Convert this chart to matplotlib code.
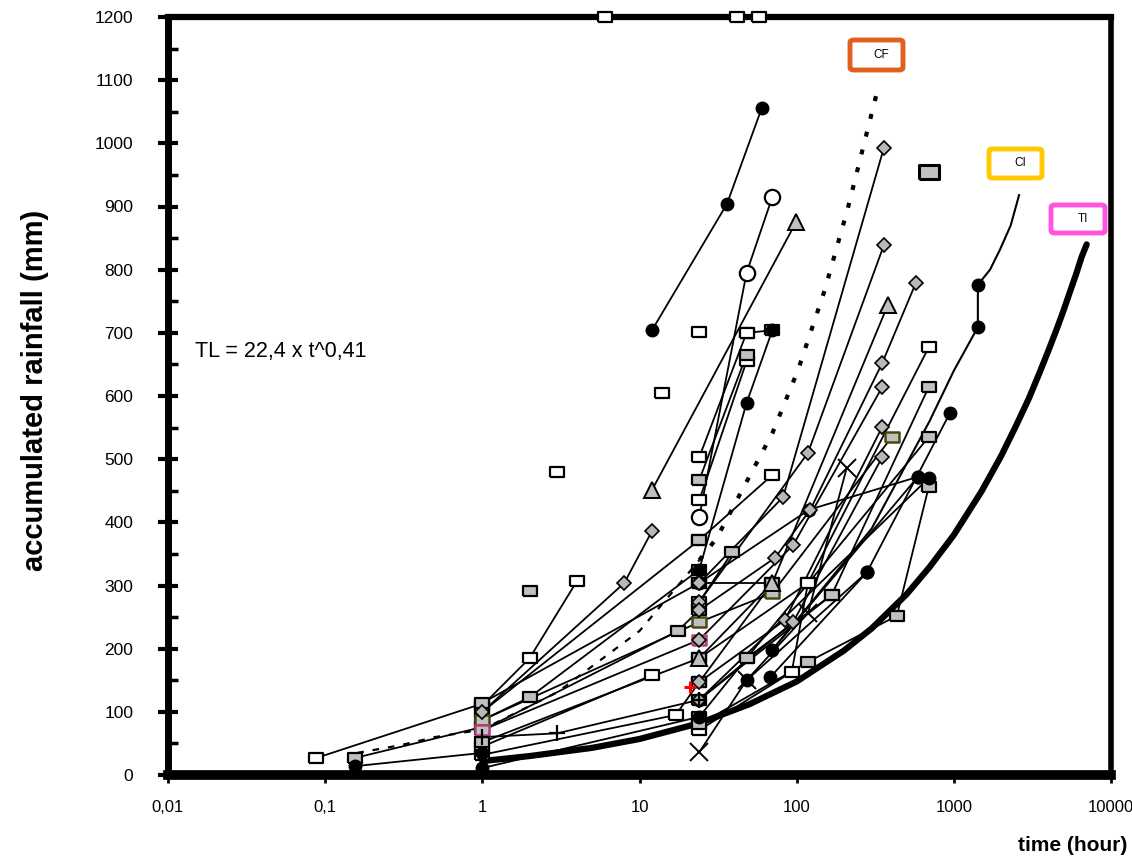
import matplotlib
matplotlib.use("Agg")
import matplotlib.pyplot as plt
from matplotlib.patches import FancyBboxPatch
import numpy as np

# --- data: (time h, accumulated rainfall mm) ---
# threshold curves
tl_t = [1, 2, 5, 10, 24, 50, 100, 200, 300, 500, 700, 1000, 1500, 2000, 2500, 3000,
        3500, 4000, 4500, 5000, 5500, 6000, 6500, 7000]
tl_y = [22, 30, 43, 57, 82, 112, 148, 197, 232, 286, 329, 380, 449, 505, 554, 596,
        636, 672, 705, 736, 766, 793, 820, 840]
cf_low_t = [0.16, 0.3, 0.5, 1, 3, 10, 24]
cf_low_y = [35, 47, 60, 72, 131, 228, 340]
cf_t = [24, 31, 45, 70, 102, 151, 212, 329]
cf_y = [340, 375, 451, 541, 641, 768, 898, 1087]
ci_t = [70, 300, 700, 1000, 1422, 1422, 1700, 1960, 2300, 2600]
ci_y = [198, 390, 560, 640, 709, 776, 800, 831, 870, 918]

# rain events, one polyline per event, grouped by marker
open_sq_lines = [
    [(0.088, 27), (1, 113)],
    [(1, 110), (2, 185), (4, 307)],
    [(1, 45), (12, 158)],
    [(1, 32), (17, 95), (24, 147)],
    [(24, 503), (48, 700)],
    [(24, 435), (48, 655)],
    [(24, 372), (70, 475)],
    [(24, 71), (93, 163), (118, 304), (692, 677)],
    [(24, 185), (118, 304)],
    [(24, 701)],
    [(48, 700), (70, 704)],
]
gray_sq_lines = [
    [(0.155, 27), (1, 76)],
    [(1, 87), (2, 123), (24, 325)],
    [(1, 100), (24, 372)],
    [(1, 114), (24, 304)],
    [(1, 52), (24, 185)],
    [(1, 71), (17.5, 228), (24, 261)],
    [(24, 467), (48, 665)],
    [(24, 92), (48, 185), (167, 285), (692, 614)],
    [(24, 80), (118, 179), (434, 252), (692, 456)],
    [(48, 185), (692, 535)],
    [(24, 274), (39, 353)],
    [(24, 304), (70, 304)],
    [(24, 147), (70, 304)],
    [(24, 119), (167, 285)],
]
olive_sq_lines = [
    [(1, 87), (24, 242), (70, 288), (403, 535)],
]
pink_sq_lines = [
    [(1, 71), (24, 214)],
]
black_dot_lines = [
    [(0.155, 14), (1, 35)],
    [(1, 11), (24, 92)],
    [(12, 704), (36, 904), (60, 1056)],
    [(24, 325), (48, 589), (70, 704)],
    [(68, 155), (280, 321), (944, 573)],
    [(24, 119), (692, 470)],
    [(70, 198), (590, 472)],
    [(24, 304), (120, 420), (590, 472)],
    [(48, 150), (280, 321)],
]
hex_lines = [
    [(24, 408), (48, 795), (70, 915)],
]
tri_lines = [
    [(12, 451), (99, 875)],
    [(24, 185), (70, 304), (380, 744)],
]
diamond_lines = [
    [(1, 100), (8, 304), (12, 386)],
    [(24, 304), (82, 440), (359, 993)],
    [(24, 274), (118, 510), (359, 839)],
    [(24, 261), (73, 344), (122, 420), (350, 652), (573, 779)],
    [(24, 214), (95, 364), (350, 614)],
    [(24, 147), (84, 245), (350, 551)],
    [(24, 119), (95, 242), (350, 503)],
]
cross_lines = [
    [(24, 36), (48, 150), (118, 256), (208, 486)],
]
plus_lines = [
    [(1, 60), (3, 66), (24, 119)],
]
red_plus = [(21, 139)]
lone_open = [(3, 480), (14, 605)]
lone_gray = [(2, 291)]
big_gray = [(692, 954)]
top_open = [(6, 1200), (42, 1200), (58, 1200)]

# --- drawing ---
rect = [(-1, -0.7), (1, -0.7), (1, 0.7), (-1, 0.7), (-1, -0.7)]
styles = {
    "open": dict(marker=rect, ms=10, mfc="white", mec="black", mew=1.6),
    "gray": dict(marker=rect, ms=10, mfc="#c0c0c0", mec="black", mew=1.6),
    "olive": dict(marker=rect, ms=10, mfc="#c0c0c0", mec="#4a4a10", mew=1.8),
    "pink": dict(marker=rect, ms=10, mfc="#c0c0c0", mec="#b04080", mew=1.8),
    "black": dict(marker="o", ms=9, mfc="black", mec="black", mew=1),
    "hex": dict(marker="o", ms=11, mfc="white", mec="black", mew=1.6),
    "tri": dict(marker="^", ms=11, mfc="#c0c0c0", mec="black", mew=1.4),
    "dia": dict(marker="D", ms=7, mfc="#b8b8b8", mec="black", mew=1.2),
    "cross": dict(marker="x", ms=13, mfc="black", mec="black", mew=1.4),
    "plus": dict(marker="+", ms=12, mfc="black", mec="black", mew=1.6),
}
groups = [
    (open_sq_lines, "open"), (gray_sq_lines, "gray"), (olive_sq_lines, "olive"),
    (pink_sq_lines, "pink"), (black_dot_lines, "black"), (hex_lines, "hex"),
    (tri_lines, "tri"), (diamond_lines, "dia"), (cross_lines, "cross"),
    (plus_lines, "plus"),
]

plt.rcParams["font.family"] = ["Liberation Sans", "DejaVu Sans"]
fig = plt.figure(figsize=(11.32, 8.58), dpi=100)
ax = fig.add_axes([168 / 1132, 83 / 858, 943 / 1132, 758 / 858])
ax.set_xscale("log")
ax.set_xlim(0.01, 10000)
ax.set_ylim(0, 1200)

ax.plot(tl_t, tl_y, color="black", lw=4.5, solid_capstyle="round",
        solid_joinstyle="round", zorder=3)
ax.plot(cf_low_t, cf_low_y, color="black", lw=1.6, ls=(0, (3, 4)), zorder=3)
ax.plot(cf_t, cf_y, color="black", lw=3, ls=(0, (1.2, 3.2)), zorder=3)
ax.plot(ci_t, ci_y, color="black", lw=1.5, zorder=3)
ax.plot([1422, 1422], [709, 776], ls="none", zorder=4, **styles["black"])

for lines, key in groups:
    for ev in lines:
        t, y = zip(*ev)
        ax.plot(t, y, color="black", lw=1.3, zorder=2)
        ax.plot(t, y, ls="none", zorder=4, **styles[key])

for pts, key in [(lone_open, "open"), (lone_gray, "gray")]:
    t, y = zip(*pts)
    ax.plot(t, y, ls="none", zorder=4, **styles[key])
t, y = zip(*big_gray)
ax.plot(t, y, ls="none", zorder=4, marker=rect, ms=15, mfc="#c0c0c0", mec="black", mew=2.2)
t, y = zip(*top_open)
ax.plot(t, y, ls="none", zorder=5, clip_on=False, **styles["open"])
t, y = zip(*red_plus)
ax.plot(t, y, ls="none", zorder=5, marker="+", ms=9, mec="red", mew=2.2)

# axes styling
for side, lw in [("left", 5), ("bottom", 7), ("top", 4.5), ("right", 4)]:
    ax.spines[side].set_linewidth(lw)
ax.set_xticks([0.01, 0.1, 1, 10, 100, 1000, 10000])
ax.set_xticklabels(["0,01", "0,1", "1", "10", "100", "1000", "10000"])
ax.xaxis.set_minor_locator(matplotlib.ticker.NullLocator())
ax.set_yticks(np.arange(0, 1201, 100))
ax.set_yticks(np.arange(50, 1200, 100), minor=True)
ax.tick_params(axis="y", which="major", direction="inout", length=14, width=3,
               labelsize=12.5, pad=18)
ax.tick_params(axis="y", which="minor", direction="in", length=7, width=2.5)
ax.tick_params(axis="x", which="major", direction="out", length=6, width=2,
               labelsize=12, pad=12)

label_font = ["Liberation Sans Narrow", "Liberation Sans", "DejaVu Sans"]
fig.text(0.031, 0.545, "accumulated rainfall (mm)", rotation=90, ha="center",
         va="center", fontsize=21, fontweight="bold", family=label_font)
fig.text(0.948, 0.014, "time (hour)", ha="center", va="center", fontsize=15,
         fontweight="bold", family=label_font)
fig.text(0.172, 0.590, "TL = 22,4 x t^0,41", ha="left", va="center", fontsize=15.5)

# coloured label boxes for the threshold curves
for (x0, y0, x1, y1), col, txt in [((850, 40, 903, 70), "#e0601e", "CF"),
                                   ((989, 149, 1042, 178), "#ffc800", "CI"),
                                   ((1051, 205, 1105, 233), "#ff55dd", "TI")]:
    box = FancyBboxPatch((x0 / 1132, 1 - y1 / 858), (x1 - x0) / 1132, (y1 - y0) / 858,
                         boxstyle="round,pad=0,rounding_size=0.003", transform=fig.transFigure,
                         facecolor="white", edgecolor=col, lw=3.5, zorder=6)
    fig.patches.append(box)
    fig.text((x0 + x1) / 2 / 1132 + 0.004, 1 - (y0 + y1) / 2 / 858, txt, ha="center",
             va="center", fontsize=8.5, zorder=7)

fig.savefig("out.png", dpi=100)
